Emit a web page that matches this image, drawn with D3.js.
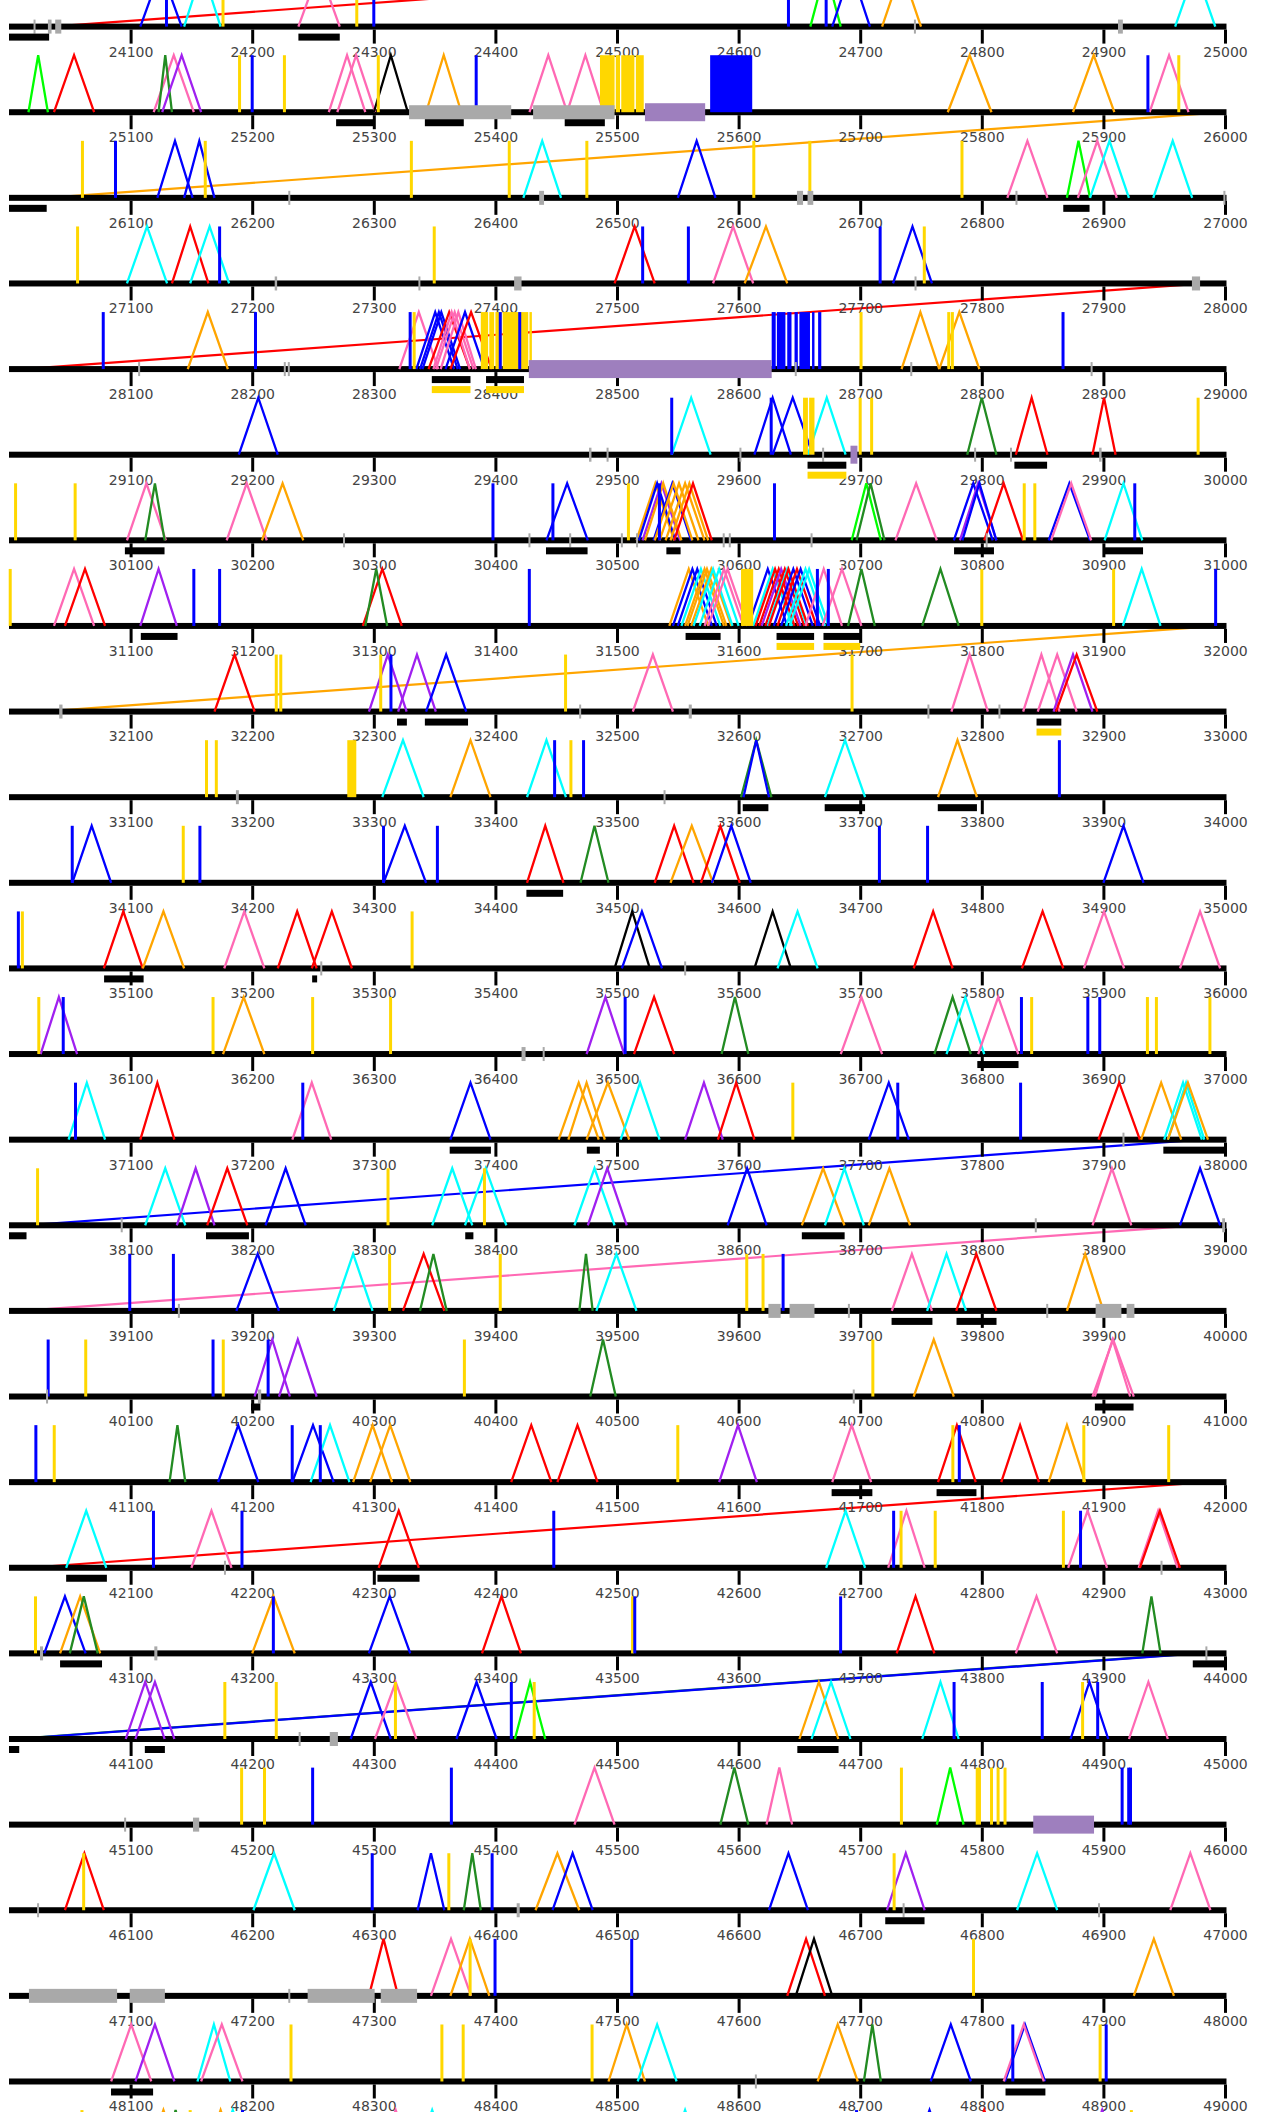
<!DOCTYPE html>
<html><head><meta charset="utf-8">
<script src="https://cdn.jsdelivr.net/npm/d3@7"></script>
<style>html,body{margin:0;padding:0;background:#fff}svg{display:block}</style>
</head><body><svg id="c" width="1266" height="2112"></svg>
<script>
// ---------------- DATA ----------------
const rowStarts = d3.range(23000, 49001, 1000);
const shownRows = d3.range(24000, 48001, 1000);
const tickOffsets = d3.range(100, 1001, 100);
const colorKeys = {R:"#ff0000",B:"#0000ff",C:"#00ffff",G:"#00ff00",D:"#228b22",P:"#ff69b4",U:"#a020f0",O:"#ffa500",K:"#000000",Y:"#ffd700"};

// peaks: [start, end, colour]
const peaks = [
[24108,24142,"B"],[24144,24174,"C"],[24238,24272,"P"],[24659,24684,"G"],[24677,24708,"B"],[24718,24750,"O"],[24959,24992,"C"],
[25016,25032,"G"],[25037,25070,"R"],[25119,25152,"P"],[25123,25134,"D"],[25126,25158,"U"],[25263,25293,"P"],[25270,25301,"P"],[25300,25328,"K"],[25343,25372,"O"],[25428,25459,"P"],[25459,25489,"P"],[25772,25808,"O"],[25875,25909,"O"],[25938,25970,"P"],
[26122,26151,"B"],[26144,26169,"B"],[26423,26454,"C"],[26550,26581,"B"],[26821,26854,"P"],[26870,26889,"G"],[26879,26911,"P"],[26889,26921,"C"],[26941,26973,"C"],
[27097,27130,"C"],[27134,27164,"R"],[27149,27181,"C"],[27498,27531,"R"],[27579,27612,"P"],[27605,27640,"O"],[27727,27759,"B"],
[28147,28180,"O"],[28321,28353,"P"],[28335,28366,"B"],[28338,28369,"B"],[28340,28371,"B"],[28345,28379,"R"],[28349,28379,"P"],[28351,28382,"P"],[28355,28384,"P"],[28359,28391,"B"],[28363,28397,"R"],[28734,28765,"O"],[28765,28798,"O"],
[29189,29221,"B"],[29545,29577,"C"],[29613,29643,"B"],[29628,29661,"B"],[29657,29688,"C"],[29788,29812,"D"],[29828,29854,"R"],[29891,29910,"R"],
[30097,30129,"P"],[30112,30128,"D"],[30179,30212,"P"],[30208,30242,"O"],[30442,30476,"B"],[30516,30547,"O"],[30518,30548,"B"],[30521,30552,"U"],[30523,30553,"O"],[30530,30561,"B"],[30531,30562,"O"],[30535,30567,"O"],[30540,30572,"O"],[30544,30575,"O"],[30547,30578,"R"],[30693,30717,"G"],[30697,30720,"D"],[30729,30763,"P"],[30777,30809,"B"],[30782,30812,"U"],[30784,30812,"B"],[30802,30834,"R"],[30855,30889,"B"],[30857,30890,"P"],[30901,30932,"C"],
[31037,31070,"P"],[31046,31079,"R"],[31108,31138,"U"],[31291,31323,"R"],[31293,31311,"D"],
[31543,31575,"O"],[31546,31578,"B"],[31550,31582,"B"],[31553,31585,"C"],[31556,31588,"O"],[31558,31590,"O"],[31561,31594,"O"],[31563,31595,"C"],[31568,31600,"C"],[31572,31604,"P"],[31575,31607,"P"],
[31608,31640,"B"],[31612,31644,"C"],[31614,31646,"R"],[31617,31649,"R"],[31619,31651,"U"],[31622,31654,"R"],[31624,31656,"C"],[31625,31657,"R"],[31629,31661,"B"],[31632,31664,"R"],[31635,31667,"B"],[31639,31671,"C"],[31642,31674,"C"],
[31655,31685,"P"],[31669,31701,"P"],[31690,31712,"D"],[31751,31781,"D"],[31916,31947,"C"],
[32169,32202,"R"],[32296,32327,"U"],[32320,32351,"U"],[32343,32376,"B"],[32513,32546,"P"],[32775,32805,"P"],[32834,32864,"P"],[32846,32878,"P"],[32859,32891,"U"],[32861,32895,"R"],
[33307,33341,"C"],[33363,33396,"O"],[33426,33458,"C"],[33602,33627,"D"],[33604,33625,"B"],[33671,33704,"C"],[33764,33796,"O"],
[34052,34084,"B"],[34308,34343,"B"],[34426,34456,"R"],[34470,34493,"D"],[34531,34563,"R"],[34544,34579,"O"],[34569,34601,"R"],[34578,34610,"B"],[34900,34933,"B"],
[35078,35110,"R"],[35110,35144,"O"],[35177,35210,"P"],[35221,35253,"R"],[35249,35282,"R"],[35498,35527,"K"],[35504,35537,"B"],[35613,35643,"K"],[35632,35665,"C"],[35744,35776,"R"],[35833,35867,"R"],[35884,35917,"P"],[35963,35996,"P"],
[36026,36056,"U"],[36176,36210,"O"],[36475,36506,"U"],[36514,36547,"R"],[36586,36608,"D"],[36684,36718,"P"],[36761,36791,"D"],[36771,36802,"C"],[36797,36830,"P"],
[37049,37079,"C"],[37108,37136,"R"],[37233,37265,"P"],[37363,37396,"B"],[37452,37485,"O"],[37460,37490,"O"],[37475,37510,"O"],[37503,37535,"C"],[37556,37587,"U"],[37583,37613,"R"],[37707,37740,"B"],[37896,37930,"R"],[37931,37964,"O"],[37950,37981,"C"],[37953,37983,"C"],[37953,37986,"O"],
[38112,38145,"C"],[38138,38169,"U"],[38163,38196,"R"],[38211,38244,"B"],[38348,38381,"C"],[38375,38409,"C"],[38465,38498,"C"],[38476,38508,"U"],[38591,38623,"B"],[38652,38687,"O"],[38671,38703,"C"],[38707,38741,"O"],[38891,38923,"P"],[38963,38996,"B"],
[39187,39222,"B"],[39267,39299,"C"],[39324,39358,"R"],[39338,39360,"D"],[39469,39480,"D"],[39483,39516,"C"],[39726,39759,"P"],[39755,39787,"C"],[39779,39812,"R"],[39870,39900,"O"],
[40202,40231,"U"],[40222,40253,"U"],[40478,40499,"D"],[40744,40777,"O"],[40891,40925,"P"],[40893,40922,"P"],
[41132,41145,"D"],[41172,41205,"B"],[41233,41267,"B"],[41248,41280,"C"],[41283,41315,"O"],[41297,41330,"O"],[41413,41446,"R"],[41451,41484,"R"],[41584,41615,"U"],[41677,41709,"P"],[41764,41795,"R"],[41816,41847,"R"],[41855,41885,"O"],
[42047,42080,"C"],[42150,42183,"P"],[42304,42337,"R"],[42672,42704,"C"],[42723,42753,"P"],[42871,42903,"P"],[42929,42961,"P"],[42930,42963,"R"],
[43029,43063,"B"],[43042,43075,"O"],[43050,43073,"D"],[43200,43235,"O"],[43296,43330,"B"],[43389,43421,"R"],[43730,43761,"R"],[43828,43862,"P"],[43932,43947,"D"],
[44096,44128,"U"],[44104,44136,"U"],[44281,44314,"B"],[44301,44335,"P"],[44368,44401,"B"],[44416,44441,"G"],[44650,44682,"O"],[44660,44692,"C"],[44751,44781,"C"],[44873,44904,"B"],[44921,44953,"P"],
[45465,45498,"P"],[45585,45608,"D"],[45623,45644,"P"],[45763,45785,"G"],
[46046,46078,"R"],[46201,46235,"C"],[46336,46358,"B"],[46374,46388,"D"],[46433,46469,"O"],[46447,46480,"B"],[46625,46657,"B"],[46722,46753,"U"],[46829,46862,"C"],[46955,46988,"P"],
[47296,47320,"R"],[47347,47380,"P"],[47363,47395,"O"],[47640,47671,"R"],[47647,47677,"K"],[47925,47958,"O"],
[48084,48117,"P"],[48104,48136,"U"],[48155,48182,"C"],[48158,48192,"P"],[48493,48523,"O"],[48517,48549,"C"],[48665,48698,"O"],[48703,48717,"D"],[48758,48791,"B"],[48819,48852,"B"],[48818,48851,"P"],
[49111,49143,"O"],[49125,49149,"D"],[49158,49190,"O"],[49168,49200,"C"],[49302,49334,"P"],[49332,49364,"C"],[49540,49572,"C"],[49741,49773,"B"],[49786,49818,"R"],[49883,49915,"U"]
];

// vertical marks: [position, colour]
const vlines = [
[24129.5,"B"],[24176,"Y"],[24286,"Y"],[24300,"B"],[24641,"B"],[24672,"B"],
[25189.6,"Y"],[25200,"B"],[25226.5,"Y"],[25303.7,"Y"],[25384.2,"B"],[25936.6,"B"],[25962,"Y"],
[26060.4,"Y"],[26087.6,"B"],[26161.4,"Y"],[26330.9,"Y"],[26411.4,"Y"],[26475.2,"Y"],[26612.5,"Y"],[26658.6,"Y"],[26783.7,"Y"],
[27056.4,"Y"],[27173.2,"B"],[27349.7,"Y"],[27521.1,"B"],[27558.7,"B"],[27716.4,"B"],[27752.7,"Y"],
[28077.5,"B"],[28202.7,"B"],[28329.9,"B"],[28333.2,"Y"],[28404,"B"],[28420,"B"],[28700.7,"Y"],[28772.8,"Y"],[28775.8,"Y"],[28866.8,"B"],
[29545,"B"],[29626.8,"B"],[29700,"Y"],[29709.4,"Y"],[29977.9,"Y"],
[30005.4,"Y"],[30054.4,"Y"],[30398,"B"],[30447.3,"B"],[30509.4,"Y"],[30534.9,"B"],[30629.5,"B"],[30834.9,"Y"],[30843.6,"Y"],[30925.8,"B"],
[31001,"Y"],[31152,"B"],[31173.2,"B"],[31427.9,"B"],[31664.8,"B"],[31673.8,"B"],[31800,"Y"],[31908.4,"Y"],[31992.3,"B"],
[32219.8,"Y"],[32223.5,"Y"],[32305.7,"Y"],[32314.1,"B"],[32457.7,"Y"],[32693.3,"Y"],
[33162.4,"Y"],[33170.5,"Y"],[33448.7,"B"],[33462.1,"Y"],[33472.5,"B"],[33863.8,"B"],
[34052,"B"],[34143.3,"Y"],[34157,"B"],[34308,"B"],[34352.3,"B"],[34715.8,"B"],[34755.4,"B"],
[35007.7,"B"],[35011,"Y"],[35331.5,"Y"],
[36024.5,"Y"],[36044.6,"B"],[36167.8,"Y"],[36249.7,"Y"],[36313.8,"Y"],[36506.7,"B"],[36832.6,"B"],[36841,"Y"],[36887.2,"B"],[36897,"B"],[36936.2,"Y"],[36943.6,"Y"],[36987.6,"Y"],
[37054.7,"B"],[37241.6,"B"],[37644.6,"Y"],[37730.9,"B"],[37831.9,"B"],
[38023.5,"Y"],[38311.7,"Y"],[38391,"Y"],
[39099.3,"B"],[39135.2,"B"],[39313,"Y"],[39404,"Y"],[39606.7,"Y"],[39620.1,"Y"],[39636.6,"B"],
[40032.2,"B"],[40063.1,"Y"],[40167.8,"B"],[40176.2,"Y"],[40213.1,"B"],[40374.5,"Y"],[40710.4,"Y"],
[41022.1,"B"],[41037.2,"Y"],[41232.9,"B"],[41256,"B"],[41550,"Y"],[41776.2,"Y"],[41781.5,"B"],[41883.9,"Y"],[41953.7,"Y"],
[42118.8,"B"],[42191.6,"B"],[42448,"B"],[42727.5,"B"],[42733.6,"Y"],[42761.7,"Y"],[42867.1,"Y"],[42881.2,"B"],
[43021.8,"Y"],[43217.4,"B"],[43512.8,"Y"],[43514.6,"B"],[43683.9,"B"],
[44177.5,"Y"],[44219.8,"Y"],[44317.8,"Y"],[44413.1,"B"],[44431.9,"Y"],[44777.2,"B"],[44849.7,"B"],[44882.9,"Y"],[44895.3,"B"],
[45191.3,"Y"],[45210.1,"Y"],[45249.7,"B"],[45363.8,"B"],[45733.9,"Y"],[45808,"Y"],[45813.4,"Y"],[45819.1,"Y"],[45915.4,"B"],[45920.8,"B"],[45922.3,"B"],
[46061.4,"Y"],[46298.7,"B"],[46361.7,"Y"],[46397.3,"B"],[46727.9,"Y"],
[47379.2,"Y"],[47399.7,"B"],[47512.1,"B"],[47793.2,"Y"],
[48231.9,"Y"],[48356,"Y"],[48373.5,"Y"],[48479.5,"Y"],[48825.5,"B"],[48897.3,"Y"],[48902.3,"B"],
[49060,"Y"],[49149,"Y"],[49192,"B"],[49697,"B"],[49923,"Y"]
];

// filled full-height blocks: [start, end, colour]
const blocks = [
[25486,25498,"Y"],[25499,25502.5,"Y"],[25503.5,25514.3,"Y"],[25515.5,25522,"Y"],[25576.6,25611.2,"B"],
[28388,28394,"Y"],[28395,28399,"Y"],[28400,28405,"Y"],[28406,28427,"Y"],[28428,28430,"Y"],
[28627.2,28630.5,"B"],[28631.5,28638.5,"B"],[28640,28643.5,"B"],[28646,28648.7,"B"],[28650,28658.7,"B"],[28660.4,28662.4,"B"],[28665.4,28668,"B"],
[29653,29657,"Y"],[29658,29662.4,"Y"],
[31602,31612,"Y"],
[33278.2,33285.6,"Y"],
[45795,45799.3,"Y"]
];

// grey marks on the axis: [start, end]
const grayMarks = [
[24020.5,24021.5],[24032,24035],[24038,24043],[24744.5,24745.5],[24912,24916],
[25329,25413],[25431,25498],
[26230,26231],[26436,26440],[26648,26653],[26656.7,26661.4],[26828,26829],[26999,27000],
[27218.5,27220.5],[27337,27338],[27415.4,27421.5],[27745,27746],[27972.8,27979.5],
[28106.5,28107.5],[28226.3,28227.3],[28229.6,28230.6],[28646.5,28647.5],[28741.5,28742.5],[28889.8,28890.8],
[29477,29479],[29491.5,29493],[29601,29602],[29669,29670],[29794,29795],[29823.5,29824.5],[29896.5,29898.5],
[30275,30276],[30427.5,30428.5],[30461,30462],[30503.5,30504.5],[30516,30517],[30587,30588.5],[30592,30593.5],[30659.5,30660.5],[30803.5,30804.5],
[32041.3,32044],[32469.2,32470.2],[32559,32561.5],[32755.6,32756.6],[32814,32815],
[33186.6,33189],[33538.6,33539.6],
[35256.3,35257.3],[35555.3,35556.8],
[36421.5,36424.8],[36439.2,36440.2],
[37916,37917],
[38092.2,38093.2],[38843.9,38844.9],[38997.7,39000],
[39139.2,39140.2],[39624.5,39634.6],[39641.9,39662.4],[39690.2,39691.2],[39853.3,39854.3],[39893.6,39914.8],[39919.1,39925.5],
[40030.8,40031.8],[40204.7,40207.4],[40694.2,40695.2],
[42177.1,42178.1],[42947.3,42948.3],
[43025.5,43028],[43119.5,43122],[43984.2,43985.2],
[44238.5,44239.5],[44263.8,44270.5],
[45095,45096],[45151.3,45156.4],
[46023.4,46024.4],[46417.5,46420],[46735.2,46736.2],[46895.9,46896.9],
[47016.4,47088.9],[47099.3,47128.2],[47230,47231],[47245.6,47300.7],[47305.7,47335.6],
[48613.7,48614.7]
];

// purple boxes on the axis: [start, end]
const purpleBoxes = [[25523,25572.5],[28427.5,28627.2],[29692,29697.7],[45842.3,45892.3]];

// black bars under the axis: [start, end]
const blackBars = [
[24000,24033],[24238,24272],
[25269,25301],[25342,25374],[25457,25490],
[26000,26031],[26867,26888.6],
[28347.7,28379.5],[28392.3,28423.5],
[29656.7,29688.6],[29826.8,29853.7],
[30095.3,30127.9],[30441.6,30475.8],[30540.6,30552.3],[30777.2,30810],[30901.3,30932.6],
[31108.4,31138.6],[31556.4,31585.2],[31631.2,31662.1],[31669.8,31700],
[32319.1,32327.2],[32342,32377.5],[32845,32865.4],
[33603.4,33624.5],[33670.8,33704],[33763.8,33796],
[34425.5,34455.7],
[35078.2,35110.7],[35249.3,35253.4],
[36796.3,36830.2],
[37362.4,37396.3],[37475.2,37485.9],[37949.3,38000],
[38000,38014.4],[38162,38197.3],[38375.2,38381.9],[38652,38687.2],
[39725.8,39759.4],[39779.2,39812.1],
[40199,40206.7],[40893,40924.8],
[41676.5,41710],[41762.8,41795.6],
[42047,42080.5],[42303,42337.6],
[43042,43076.5],[43973.5,44000],
[44000,44008.4],[44111.7,44128.2],[44648.3,44682.2],
[46720.6,46752.9],
[48083.9,48118.5],[48819.5,48852.3]
];

// yellow bars under the black bars: [start, end]
const yellowBars = [[28347.7,28379.5],[28392.3,28423.5],[29656.7,29688.6],[31631.2,31662.1],[31669.8,31700],[32845,32865.4]];

// links across a row break: [from, to, colour]
const diagonals = [
[23995,24035,"R"],[25999,26031,"O"],[27983,28011,"R"],[31994,32028,"O"],
[37980,38014,"B"],[38977,39011,"P"],[41985,42016,"R"],[43975,44003,"D"],[43978,44005,"B"]
];

// ---------------- DRAWING ----------------
const svg = d3.select("#c");
svg.append("rect").attr("width",1266).attr("height",2112).attr("fill","#fff");

const x = d3.scaleLinear().domain([0, 1000]).range([9, 1225]);
const y = d3.scaleLinear().domain([rowStarts[0], rowStarts[rowStarts.length - 1]]).range([26.6 - 85.62, 26.6 + 85.62 * 25]);
const PEAK = 57;

const rowOf = p => Math.floor(p / 1000) * 1000;
const seg = (s, e) => { const r = rowOf(s); return {x0: x(s - r), x1: x(e - r), b: y(r)}; };
const pt = p => { const r = rowOf(p); return [x(p - r), y(r)]; };

// diagonals
const gDiag = svg.append("g");
diagonals.forEach(([a, b, c]) => {
  const [x1, y1] = pt(a), [x2, y2] = pt(b);
  gDiag.append("line").attr("x1", x1).attr("y1", y1).attr("x2", x2).attr("y2", y2)
    .attr("stroke", colorKeys[c]).attr("stroke-width", 2.2);
});

// baselines and axes (only the rows that fall inside the picture)
shownRows.forEach(r => {
  const b = y(r);
  svg.append("rect").attr("x", x(0)).attr("y", b - 3).attr("width", x(1000) - x(0) + 1.5).attr("height", 6).attr("fill", "#000");
  const axis = d3.axisBottom(x).tickValues(tickOffsets).tickSize(14).tickPadding(3)
    .tickFormat(d => String(r + d));
  const g = svg.append("g").attr("transform", `translate(0,${b + 3})`).call(axis);
  g.select(".domain").remove();
  g.selectAll(".tick line").attr("stroke", "#000").attr("stroke-width", 3);
  g.selectAll(".tick text").attr("fill", "#444").attr("font-size", 14)
    .attr("font-family", "'DejaVu Sans', sans-serif");
});

// peaks
const gPeaks = svg.append("g").attr("fill", "none").attr("stroke-width", 2.3);
peaks.forEach(([s, e, c]) => {
  const {x0, x1, b} = seg(s, e);
  gPeaks.append("path")
    .attr("d", d3.line()([[x0, b], [(x0 + x1) / 2, b - PEAK], [x1, b]]))
    .attr("stroke", colorKeys[c]);
});

// blocks
blocks.forEach(([s, e, c]) => {
  const {x0, x1, b} = seg(s, e);
  svg.append("rect").attr("x", x0).attr("y", b - PEAK).attr("width", Math.max(2, x1 - x0)).attr("height", PEAK)
    .attr("fill", colorKeys[c]);
});

// vertical lines
vlines.forEach(([p, c]) => {
  const [px, b] = pt(p);
  svg.append("line").attr("x1", px).attr("x2", px).attr("y1", b - PEAK).attr("y2", b)
    .attr("stroke", colorKeys[c]).attr("stroke-width", 3);
});

// purple boxes
purpleBoxes.forEach(([s, e]) => {
  const {x0, x1, b} = seg(s, e);
  svg.append("rect").attr("x", x0).attr("y", b - 9).attr("width", x1 - x0).attr("height", 18).attr("fill", "#9e7fbe");
});

// grey marks
grayMarks.forEach(([s, e]) => {
  const {x0, x1, b} = seg(s, e);
  const w = Math.max(2, x1 - x0);
  svg.append("rect").attr("x", (x0 + x1) / 2 - w / 2).attr("y", b - 7).attr("width", w).attr("height", 14).attr("fill", "#a9a9a9");
});

// black bars
blackBars.forEach(([s, e]) => {
  const {x0, x1, b} = seg(s, e);
  svg.append("rect").attr("x", x0).attr("y", b + 7).attr("width", x1 - x0).attr("height", 7).attr("fill", "#000");
});

// yellow bars
yellowBars.forEach(([s, e]) => {
  const {x0, x1, b} = seg(s, e);
  svg.append("rect").attr("x", x0).attr("y", b + 17).attr("width", x1 - x0).attr("height", 7).attr("fill", "#ffd700");
});
</script>
</body></html>
